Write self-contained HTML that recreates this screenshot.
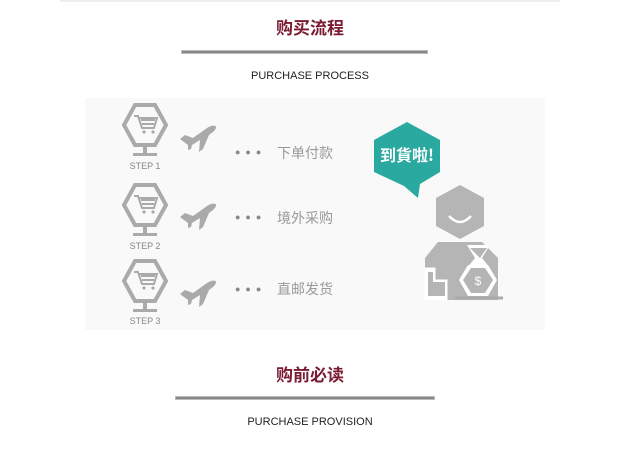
<!DOCTYPE html><html><head><meta charset="utf-8"><style>
body{margin:0;width:620px;height:449px;background:#fff;position:relative;overflow:hidden;font-family:"Liberation Sans","Noto Sans CJK SC",sans-serif}
.a{position:absolute}
.t{color:#7a1b32;font-size:17px;font-weight:bold;width:620px;text-align:center}
.s{font-size:11px;color:#222;width:620px;text-align:center}
.ln{height:2px;background:#888;border:1px solid #bbb}
.st{font-size:9px;color:#888;width:60px;text-align:center}
.cn{font-size:14px;color:#999}
.dt{font-size:9px;color:#888;letter-spacing:5px}
</style></head><body>
<div class="a" style="left:60px;top:0;width:500px;height:2px;background:#eee"></div>
<div class="a t" style="top:14px">购买流程</div>
<div class="a ln" style="left:181px;top:50px;width:245px"></div>
<div class="a s" style="top:70px">PURCHASE PROCESS</div>
<div class="a" style="left:85px;top:98px;width:460px;height:232px;background:#f9f9f9"></div>
<svg class="a" style="left:0;top:0" width="620" height="449">
<defs><g id="ic">
<polygon points="-10,-20 10,-20 21,0 10,20 -10,20 -21,0" fill="none" stroke="#aaa" stroke-width="4"/>
<path d="M-11,-9 h4 l4,12 h12 l3,-10 h-18" fill="none" stroke="#aaa" stroke-width="2"/>
<path d="M-4,-5 h14 M-3,-1 h12" stroke="#aaa" stroke-width="2"/>
<circle cx="-1" cy="7" r="1.6" fill="#aaa"/><circle cx="8" cy="7" r="1.6" fill="#aaa"/>
<rect x="-2" y="20" width="4" height="9" fill="#aaa"/><rect x="-12" y="28" width="24" height="3" fill="#aaa"/>
</g>
<g id="pl"><path d="M-18,4 l5,-4 l8,3 l14,-10 c4,-3 9,-3 9,-1 c0,3 -3,5 -7,8 l-6,14 l-4,3 l1,-12 l-8,5 l-1,4 l-3,1 l0,-5 z" fill="#aaa"/></g></defs>
<use href="#ic" x="145" y="125"/><use href="#ic" x="145" y="205"/><use href="#ic" x="145" y="281"/>
<use href="#pl" x="198" y="135"/><use href="#pl" x="198" y="213"/><use href="#pl" x="198" y="290"/>
<polygon points="407,122 440,140 440,172 420,184 418,198 404,186 374,172 374,140" fill="#2aa9a0"/>
<text x="407" y="161" font-size="16" font-weight="bold" fill="#fff" text-anchor="middle" font-family="Noto Sans CJK SC,sans-serif">到貨啦!</text>
<polygon points="460,185 484,198 484,226 460,239 436,226 436,198" fill="#b5b5b5"/>
<path d="M449,216 q11,12 22,0" stroke="#fff" stroke-width="2.5" fill="none"/>
<polygon points="438,242 482,242 498,258 498,300 425,300 425,258" fill="#b5b5b5"/>
<path d="M425,268 h10 v12 h12 v20 h-22z" fill="#fff" stroke="#fff"/>
<path d="M428,272 h5 v10 h12 v14 h-17z" fill="#b5b5b5"/>
<polygon points="467,245 490,245 482,258 490,268 467,268 475,258" fill="#fff"/>
<polygon points="470,248 487,248 480,258" fill="#b5b5b5"/>
<polygon points="468,265 488,265 497,280 488,296 468,296 459,280" fill="#fff"/>
<polygon points="471,268 485,268 493,280 485,293 471,293 463,280" fill="#b5b5b5"/>
<text x="478" y="285" font-size="12" fill="#fff" text-anchor="middle">$</text>
<path d="M455,298 h48" stroke="#aaa" stroke-width="3"/>
</svg>
<div class="a st" style="left:115px;top:161px">STEP 1</div>
<div class="a st" style="left:115px;top:241px">STEP 2</div>
<div class="a st" style="left:115px;top:316px">STEP 3</div>
<div class="a dt" style="left:235px;top:147px">●●●</div>
<div class="a dt" style="left:235px;top:212px">●●●</div>
<div class="a dt" style="left:235px;top:284px">●●●</div>
<div class="a cn" style="left:277px;top:143px">下单付款</div>
<div class="a cn" style="left:277px;top:208px">境外采购</div>
<div class="a cn" style="left:277px;top:279px">直邮发货</div>
<div class="a t" style="top:361px">购前必读</div>
<div class="a ln" style="left:175px;top:396px;width:258px"></div>
<div class="a s" style="top:416px">PURCHASE PROVISION</div>
</body></html>
